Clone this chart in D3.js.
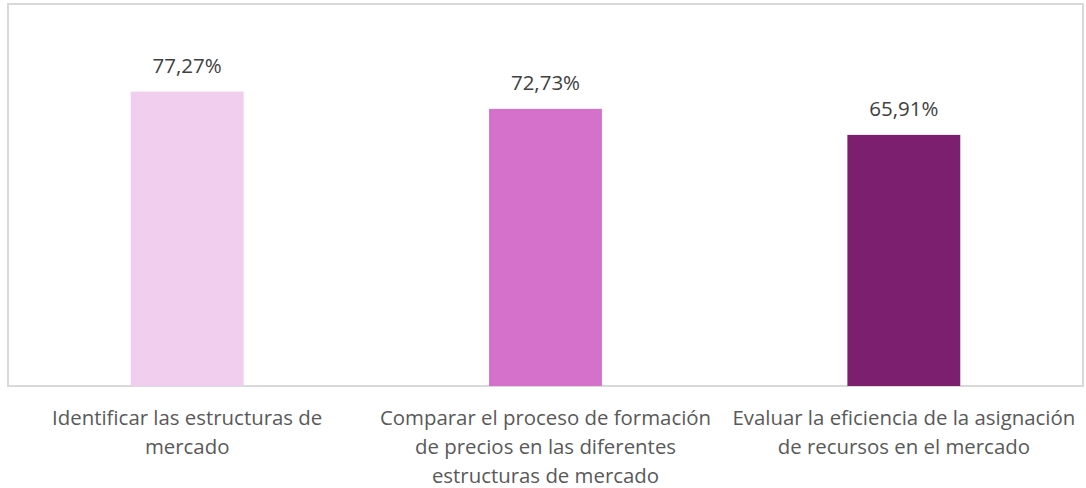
<!DOCTYPE html>
<html>
<head>
<meta charset="utf-8">
<script src="https://cdn.jsdelivr.net/npm/d3@7"></script>
<style>
  body { margin: 0; background: #fff; }
  text { font-family: "Open Sans", sans-serif; }
</style>
</head>
<body>
<svg id="chart" width="1086" height="488"></svg>
<script>
// data
const categories = ["identificar", "comparar", "evaluar"];
const values = [77.27, 72.73, 65.91];
const labelLines = [
  ["Identificar las estructuras de", "mercado"],
  ["Comparar el proceso de formación", "de precios en las diferentes", "estructuras de mercado"],
  ["Evaluar la eficiencia de la asignación", "de recursos en el mercado"]
];
const colors = ["#f1cdee", "#d671cb", "#7b1f6e"];

const width = 1086, height = 488;
const plot = { left: 8, right: 1083, top: 5, bottom: 386 };

const svg = d3.select("#chart");

const x = d3.scaleBand()
  .domain(categories)
  .range([plot.left, plot.right])
  .paddingInner(0.685)
  .paddingOuter(0.3425);

const y = d3.scaleLinear()
  .domain([0, 100])
  .range([plot.bottom, plot.top]);

const fmt = v => d3.format(".2f")(v).replace(".", ",") + "%";

// plot area border
svg.append("rect")
  .attr("x", plot.left)
  .attr("y", plot.top - 1)
  .attr("width", plot.right - plot.left)
  .attr("height", plot.bottom - plot.top + 1)
  .attr("fill", "none")
  .attr("stroke", "#d9d9d9")
  .attr("stroke-width", 2);

svg.selectAll(".bar")
  .data(values)
  .join("rect")
    .attr("class", "bar")
    .attr("x", (d, i) => x(categories[i]))
    .attr("y", d => y(d))
    .attr("width", x.bandwidth())
    .attr("height", d => y(0) - y(d))
    .attr("fill", (d, i) => colors[i]);

svg.selectAll(".val")
  .data(values)
  .join("text")
    .attr("class", "val")
    .attr("x", (d, i) => x(categories[i]) + x.bandwidth() / 2)
    .attr("y", d => y(d) - 19)
    .attr("text-anchor", "middle")
    .attr("fill", "#404040")
    .style("font-size", "20.5px")
    .text(fmt);

// category labels, wrapped like the original
const xAxis = d3.axisBottom(x).tickSize(0).tickFormat("");
const gx = svg.append("g")
  .attr("transform", `translate(0,${plot.bottom})`)
  .call(xAxis);
gx.select(".domain").remove();

gx.selectAll(".tick").each(function(d, i) {
  const t = d3.select(this).append("text")
    .attr("text-anchor", "middle")
    .attr("fill", "#595959")
    .style("font-size", "20.4px");
  labelLines[i].forEach((line, k) => {
    t.append("tspan")
      .attr("x", 0)
      .attr("y", 38.5 + k * 29)
      .text(line);
  });
});
</script>
</body>
</html>
